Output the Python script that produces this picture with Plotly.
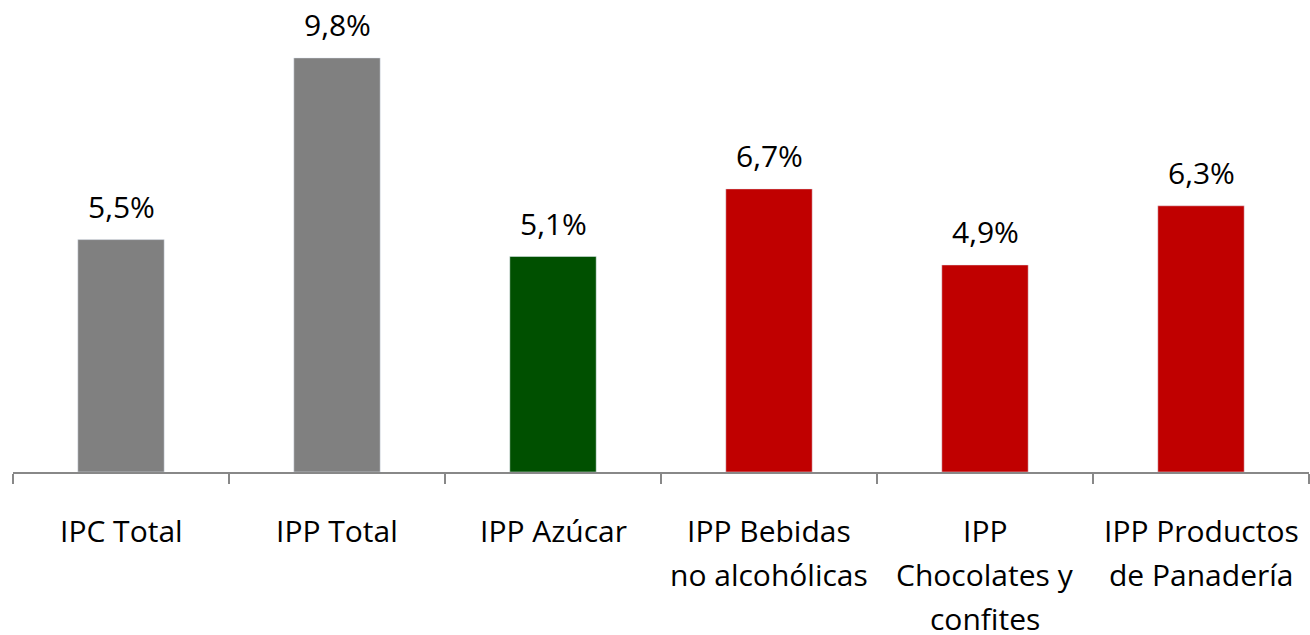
import plotly.graph_objects as go

categories = ["IPC Total", "IPP Total", "IPP Azúcar", "IPP Bebidas no alcohólicas",
              "IPP Chocolates y confites", "IPP Productos de Panadería"]
label_lines = [["IPC Total"], ["IPP Total"], ["IPP Azúcar"],
               ["IPP Bebidas", "no alcohólicas"],
               ["IPP", "Chocolates y", "confites"],
               ["IPP Productos", "de Panadería"]]
values = [5.5, 9.8, 5.1, 6.7, 4.9, 6.3]
colors = ["#808080", "#808080", "#005000", "#C00000", "#C00000", "#C00000"]

FONT = "Open Sans"
SIZE = 30
fig = go.Figure(go.Bar(x=categories, y=values, marker_color=colors, width=0.40,
                       hoverinfo="skip"))

ann = []
for c, v in zip(categories, values):
    ann.append(dict(x=c, y=v, xref="x", yref="y", text=f"{v:.1f}%".replace(".", ","),
                    showarrow=False, yanchor="middle", yshift=33,
                    font=dict(family=FONT, size=SIZE, color="#000")))
for c, lines in zip(categories, label_lines):
    for k, t in enumerate(lines):
        ann.append(dict(x=c, y=0, xref="x", yref="y", text=t, showarrow=False,
                        yanchor="middle", yshift=-(58 + 44 * k),
                        font=dict(family=FONT, size=SIZE, color="#000")))

fig.update_layout(
    width=1310, height=635,
    margin=dict(l=13, r=1, t=30, b=163),
    plot_bgcolor="white", paper_bgcolor="white",
    showlegend=False,
    annotations=ann,
    xaxis=dict(type="category", range=[-0.5, 5.5], showticklabels=False,
               tickson="boundaries", ticks="outside", ticklen=10, tickwidth=1.5,
               tickcolor="#888888", showline=True, linecolor="#888888", linewidth=1.5,
               showgrid=False, zeroline=False, fixedrange=True),
    yaxis=dict(range=[0, 10.46], visible=False, showgrid=False, zeroline=False,
               fixedrange=True),
)
fig.write_html("out.html", config={"displayModeBar": False},
               post_script="document.body.style.margin='0';document.body.style.overflow='hidden';")
